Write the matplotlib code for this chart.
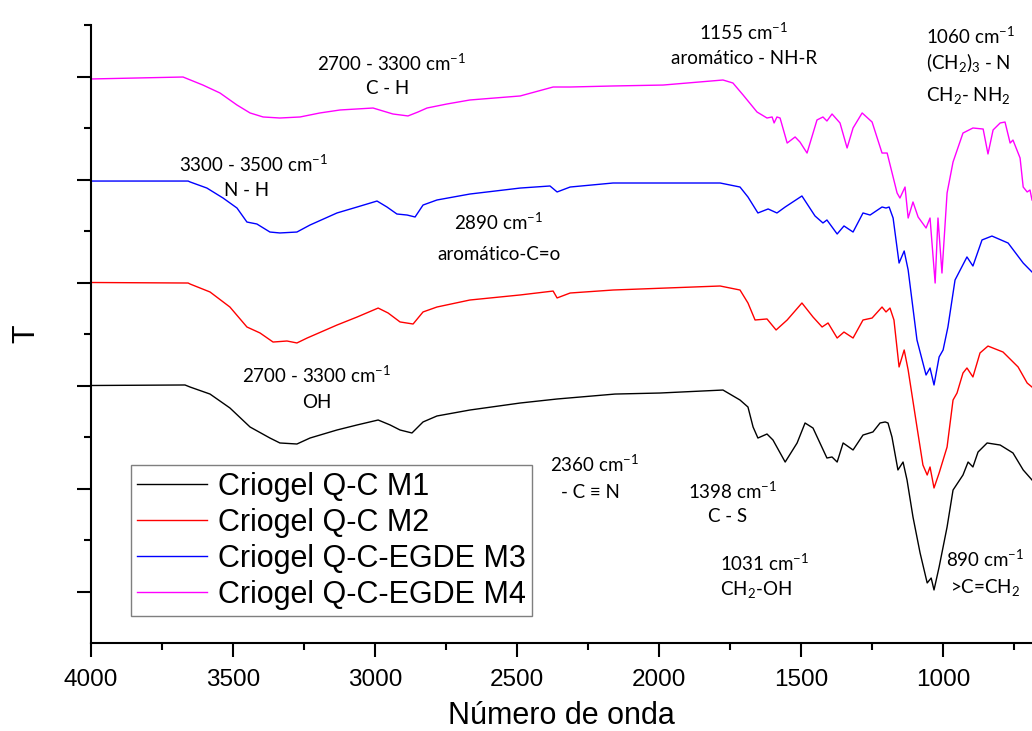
import matplotlib
matplotlib.use("Agg")
import matplotlib.pyplot as plt
from matplotlib.ticker import MultipleLocator, NullFormatter, FixedLocator

plt.rcParams['font.family'] = ['Liberation Sans', 'DejaVu Sans']
plt.rcParams['mathtext.fontset'] = 'custom'
plt.rcParams['mathtext.rm'] = 'Lato'
plt.rcParams['mathtext.it'] = 'Lato:italic'

wn_m1 = [4000, 3669, 3651, 3581, 3511, 3440, 3370, 3335, 3275, 3229, 3134, 3063, 2989, 2947, 2912,
         2870, 2831, 2782, 2666, 2489, 2359, 2155, 1997, 1775, 1757, 1715, 1687, 1669, 1652, 1620,
         1599, 1556, 1514, 1486, 1458, 1409, 1391, 1373, 1352, 1317, 1282, 1247, 1222, 1204, 1194,
         1180, 1159, 1141, 1127, 1106, 1081, 1056, 1042, 1032, 1014, 986, 965, 930, 912, 895, 877,
         845, 799, 754, 718, 687]
t_m1 = [2.50, 2.505, 2.485, 2.417, 2.282, 2.097, 1.990, 1.942, 1.932, 1.990, 2.068, 2.117, 2.165, 2.117, 2.068,
        2.039, 2.146, 2.204, 2.262, 2.330, 2.369, 2.417, 2.427, 2.456, 2.427, 2.359, 2.291, 2.097, 1.990, 2.029,
        1.971, 1.757, 1.942, 2.136, 2.087, 1.796, 1.806, 1.757, 1.942, 1.874, 2.019, 2.049, 2.136, 2.146, 2.136,
        2.000, 1.680, 1.757, 1.583, 1.223, 0.874, 0.583, 0.631, 0.515, 0.738, 1.126, 1.485, 1.631, 1.757, 1.709, 1.854,
        1.942, 1.922, 1.845, 1.680, 1.583]

wn_m2 = [4000, 3658, 3651, 3581, 3511, 3451, 3405, 3359, 3310, 3275, 3239, 3134, 3063, 2989, 2954,
         2912, 2866, 2831, 2782, 2666, 2489, 2373, 2359, 2313, 2162, 1785, 1715, 1687, 1662, 1620,
         1588, 1549, 1497, 1458, 1426, 1405, 1373, 1349, 1317, 1282, 1250, 1215, 1201, 1187, 1173,
         1155, 1137, 1123, 1092, 1071, 1056, 1046, 1032, 1014, 986, 965, 951, 930, 916, 895, 870,
         842, 789, 736, 704, 687]
t_m2 = [3.50, 3.495, 3.485, 3.408, 3.262, 3.068, 3.010, 2.922, 2.932, 2.913, 2.961, 3.087, 3.165, 3.252, 3.204,
        3.117, 3.097, 3.214, 3.262, 3.330, 3.379, 3.417, 3.350, 3.398, 3.427, 3.466, 3.427, 3.301, 3.136, 3.146,
        3.039, 3.136, 3.301, 3.165, 3.068, 3.107, 2.961, 3.019, 2.961, 3.136, 3.155, 3.262, 3.214, 3.252, 3.136,
        2.680, 2.845, 2.650, 2.097, 1.728, 1.631, 1.709, 1.505, 1.650, 1.903, 2.359, 2.427, 2.621, 2.670, 2.583, 2.816,
        2.883, 2.825, 2.680, 2.524, 2.485]

wn_m3 = [4000, 3658, 3651, 3592, 3535, 3486, 3451, 3416, 3370, 3335, 3275, 3229, 3134, 3063, 2993,
         2958, 2923, 2887, 2859, 2831, 2782, 2666, 2489, 2384, 2359, 2313, 2162, 1785, 1715, 1687,
         1652, 1616, 1585, 1556, 1497, 1451, 1423, 1409, 1373, 1349, 1317, 1282, 1257, 1215, 1201,
         1190, 1176, 1155, 1137, 1123, 1092, 1060, 1046, 1032, 1014, 1000, 983, 958, 916, 895, 863,
         828, 771, 718, 687]
t_m3 = [4.485, 4.485, 4.476, 4.417, 4.320, 4.223, 4.087, 4.068, 3.990, 3.981, 3.990, 4.058, 4.175, 4.233, 4.291,
        4.233, 4.165, 4.155, 4.136, 4.252, 4.301, 4.359, 4.417, 4.437, 4.379, 4.427, 4.466, 4.466, 4.427, 4.330,
        4.175, 4.214, 4.175, 4.233, 4.340, 4.146, 4.078, 4.107, 3.971, 4.049, 3.990, 4.175, 4.155, 4.233, 4.223,
        4.233, 4.126, 3.689, 3.806, 3.621, 2.942, 2.602, 2.670, 2.505, 2.777, 2.845, 3.068, 3.524, 3.748, 3.660, 3.913,
        3.951, 3.883, 3.689, 3.602]

wn_m4 = [4000, 3676, 3606, 3546, 3486, 3440, 3394, 3335, 3264, 3194, 3123, 3007, 2972, 2937, 2884,
         2849, 2817, 2747, 2666, 2489, 2373, 2313, 2162, 1986, 1775, 1740, 1704, 1655, 1620, 1602,
         1595, 1585, 1574, 1549, 1521, 1504, 1479, 1444, 1423, 1409, 1391, 1363, 1338, 1317, 1285,
         1250, 1215, 1197, 1162, 1152, 1134, 1123, 1106, 1088, 1060, 1046, 1028, 1018, 1004, 986,
         965, 930, 895, 859, 842, 824, 799, 782, 764, 754, 729, 718, 704, 694, 687]
t_m4 = [5.476, 5.495, 5.417, 5.340, 5.223, 5.146, 5.107, 5.097, 5.107, 5.146, 5.175, 5.194, 5.165, 5.136, 5.117,
        5.155, 5.194, 5.233, 5.272, 5.311, 5.398, 5.398, 5.408, 5.417, 5.466, 5.437, 5.320, 5.155, 5.097, 5.107,
        5.049, 5.107, 5.097, 4.854, 4.913, 4.864, 4.757, 5.078, 5.107, 5.068, 5.136, 5.049, 4.806, 5.000, 5.146,
        5.058, 4.757, 4.757, 4.369, 4.320, 4.427, 4.126, 4.282, 4.136, 4.029, 4.126, 3.495, 4.126, 3.592, 4.369,
        4.670, 4.951, 5.000, 4.990, 4.748, 4.981, 5.049, 5.058, 4.854, 4.883, 4.709, 4.427, 4.379, 4.398, 4.301]

series = [
    (wn_m1, t_m1, 'black', 'Criogel Q-C M1'),
    (wn_m2, t_m2, '#ff0000', 'Criogel Q-C M2'),
    (wn_m3, t_m3, '#0000ff', 'Criogel Q-C-EGDE M3'),
    (wn_m4, t_m4, '#ff00ff', 'Criogel Q-C-EGDE M4'),
]

W, H = 1032, 731
fig = plt.figure(figsize=(W / 100, H / 100), dpi=100)
ax = fig.add_axes([91 / W, 1 - 643 / H, 941 / W, 618 / H])

for x, y, c, lab in series:
    ax.plot(x, y, color=c, lw=1.0, label=lab)

ax.set_xlim(4000, 687)
ax.set_ylim(0, 6)
ax.xaxis.set_major_locator(MultipleLocator(500))
ax.xaxis.set_minor_locator(MultipleLocator(250))
ax.yaxis.set_major_locator(FixedLocator([0.5, 1.5, 2.5, 3.5, 4.5, 5.5]))
ax.yaxis.set_minor_locator(FixedLocator([1, 2, 3, 4, 5, 6]))
ax.yaxis.set_major_formatter(NullFormatter())
ax.tick_params(which='major', length=10, width=1.5, direction='out', labelsize=17.5, pad=9)
ax.tick_params(which='minor', length=5, width=1.5, direction='out')
for s in ['top', 'right']:
    ax.spines[s].set_visible(False)
for s in ['left', 'bottom']:
    ax.spines[s].set_linewidth(1.5)

ax.set_xlabel('Número de onda', fontsize=22, labelpad=7)
ax.set_ylabel('T', fontsize=22, labelpad=17)

leg = ax.legend(loc='lower left', bbox_to_anchor=(40 / 941, 27 / 618), borderaxespad=0,
                fontsize=22, handlelength=2.3, handletextpad=0.35, labelspacing=0.2,
                borderpad=0.2, fancybox=False, framealpha=1, edgecolor='#7f7f7f')
leg.get_frame().set_linewidth(1.0)


# anotaciones de bandas
def note(px, py, s, ha='center'):
    fig.text(px / W, 1 - py / H, s, ha=ha, va='center', fontsize=13.5,
             family=['Lato', 'DejaVu Sans'])


note(392, 63, '2700 - 3300 cm$^{-1}$')
note(388, 88, 'C - H')
note(254, 164, '3300 - 3500 cm$^{-1}$')
note(247, 191, 'N - H')
note(499, 222, '2890 cm$^{-1}$')
note(499, 255, 'aromático-C=o')
note(744, 32, '1155 cm$^{-1}$')
note(744, 58, 'aromático - NH-R')
note(926, 36, '1060 cm$^{-1}$', ha='left')
note(926, 63, '(CH$_2$)$_3$ - N', ha='left')
note(926, 95, 'CH$_2$- NH$_2$', ha='left')
note(317, 375, '2700 - 3300 cm$^{-1}$')
note(317, 402, 'OH')
note(595, 464, '2360 cm$^{-1}$')
note(590, 492, '- C ≡ N')
note(733, 491, '1398 cm$^{-1}$')
note(728, 517, 'C - S')
note(720, 563, '1031 cm$^{-1}$', ha='left')
note(720, 589, 'CH$_2$-OH', ha='left')
note(985, 559, '890 cm$^{-1}$')
note(985, 587, '>C=CH$_2$')

fig.savefig('out.png', dpi=100)
